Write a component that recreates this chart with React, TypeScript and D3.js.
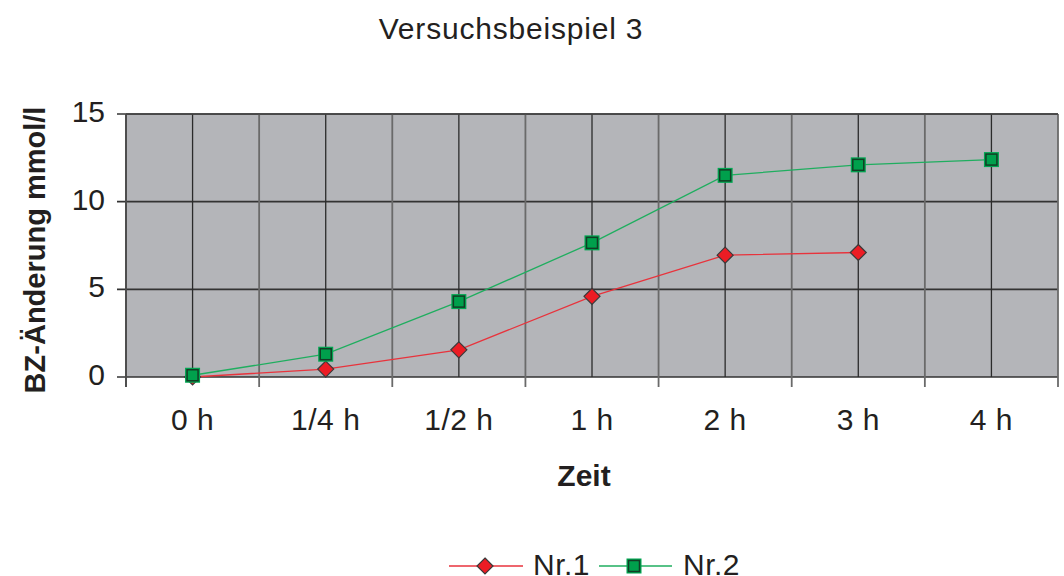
import React from "react";
import * as d3 from "d3";

const categories = ["0 h", "1/4 h", "1/2 h", "1 h", "2 h", "3 h", "4 h"];
const nr1 = [0, 0.45, 1.55, 4.6, 6.95, 7.1, null];
const nr2 = [0.1, 1.3, 4.3, 7.65, 11.5, 12.1, 12.4];
const yTicks = [0, 5, 10, 15];
const seriesNames = ["Nr.1", "Nr.2"];

const W = 1064, H = 576;
const M = { left: 126, right: 1058, top: 114, bottom: 377 };
const FONT = "'Liberation Sans', Arial, sans-serif";
const TXT = "#231f20";

export default function App() {
  const x = d3.scaleBand<string>().domain(categories).range([M.left, M.right]);
  const y = d3.scaleLinear().domain([0, 15]).range([M.bottom, M.top]);
  const cx = (c: string) => (x(c) as number) + x.bandwidth() / 2;

  const line = d3
    .line<number | null>()
    .defined((d) => d != null)
    .x((_, i) => cx(categories[i]))
    .y((d) => y(d as number));

  const boundaries = categories.map((c) => x(c) as number).concat([M.right]);
  const diamond = (px: number, py: number, r = 8) =>
    `M${px},${py - r}L${px + r},${py}L${px},${py + r}L${px - r},${py}Z`;

  const Square = ({ px, py }: { px: number; py: number }) => (
    <g>
      <rect x={px - 7.5} y={py - 7.5} width={15} height={15} fill="#00a651" />
      <rect x={px - 5.5} y={py - 5.5} width={11} height={11} fill="#00a04c" stroke="#123d25" strokeWidth={1.5} />
    </g>
  );

  return (
    <svg width={W} height={H} style={{ position: "absolute", left: 0, top: 0 }} fontFamily={FONT}>
      <rect width={W} height={H} fill="#fff" />
      <text x={511} y={39} textAnchor="middle" fontSize={30} letterSpacing={0.8} fill={TXT}>Versuchsbeispiel 3</text>
      <rect x={M.left} y={M.top} width={M.right - M.left} height={M.bottom - M.top} fill="#b4b5b9" />
      {yTicks.map((t) => (
        <g key={t}>
          <line x1={117} x2={M.right} y1={y(t)} y2={y(t)} stroke="#333" strokeWidth={1.6} />
          <text x={105} y={y(t) + 8} textAnchor="end" fontSize={30} fill={TXT}>{t}</text>
        </g>
      ))}
      {categories.map((c) => (
        <line key={"c" + c} x1={cx(c)} x2={cx(c)} y1={M.top} y2={M.bottom} stroke="#2b2b2b" strokeWidth={1.3} />
      ))}
      {boundaries.map((b, i) => (
        <line key={"b" + i} x1={b} x2={b} y1={M.top} y2={M.bottom + 10} stroke="#6a6a6a" strokeWidth={1.8} />
      ))}
      <line x1={M.left} x2={M.left} y1={M.top} y2={M.bottom + 10} stroke="#444" strokeWidth={1.6} />
      <line x1={M.left} x2={M.right} y1={M.top} y2={M.top} stroke="#444" strokeWidth={1.6} />
      {categories.map((c) => (
        <text key={"l" + c} x={cx(c)} y={430} textAnchor="middle" fontSize={30} letterSpacing={0.5} fill={TXT}>{c}</text>
      ))}
      <text x={584} y={486} textAnchor="middle" fontSize={30} fontWeight="bold" fill={TXT}>Zeit</text>
      <text transform="translate(45,250) rotate(-90)" textAnchor="middle" fontSize={29} fontWeight="bold" fill={TXT}>BZ-Änderung mmol/l</text>
      <path d={line(nr2) || ""} fill="none" stroke="#1fae5f" strokeWidth={1.3} />
      <path d={line(nr1) || ""} fill="none" stroke="#e8333c" strokeWidth={1.3} />
      {nr1.map((v, i) =>
        v == null ? null : (
          <path key={"d" + i} d={diamond(cx(categories[i]), y(v))} fill="#ec1c24" stroke="#3a3a3a" strokeWidth={1.2} />
        )
      )}
      {nr2.map((v, i) => (v == null ? null : <Square key={"s" + i} px={cx(categories[i])} py={y(v)} />))}
      <g>
        <line x1={449} x2={523} y1={566} y2={566} stroke="#e8333c" strokeWidth={1.3} />
        <path d={diamond(485, 566)} fill="#ec1c24" stroke="#3a3a3a" strokeWidth={1.2} />
        <text x={533} y={575} fontSize={30} letterSpacing={0.5} fill={TXT}>{seriesNames[0]}</text>
        <line x1={599} x2={672} y1={566} y2={566} stroke="#1fae5f" strokeWidth={1.3} />
        <Square px={634} py={566} />
        <text x={683} y={575} fontSize={30} letterSpacing={0.5} fill={TXT}>{seriesNames[1]}</text>
      </g>
    </svg>
  );
}
